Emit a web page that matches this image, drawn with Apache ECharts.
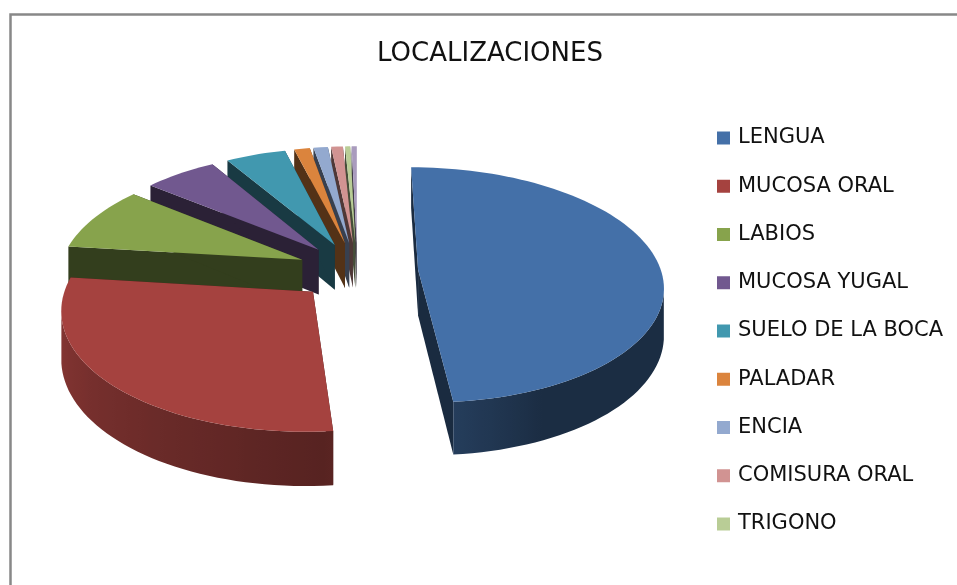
<!DOCTYPE html>
<html>
<head>
<meta charset="utf-8">
<title>LOCALIZACIONES</title>
<script src="https://cdn.jsdelivr.net/npm/echarts@6/dist/echarts.min.js"></script>
<style>
html, body { margin: 0; padding: 0; background: #fff; }
#chart { width: 957px; height: 585px; }
</style>
</head>
<body>
<div id="chart"></div>
<script>
// porcentajes
const categories = ['LENGUA', 'MUCOSA ORAL', 'LABIOS', 'MUCOSA YUGAL', 'SUELO DE LA BOCA', 'PALADAR', 'ENCIA', 'COMISURA ORAL', 'TRIGONO', 'OTROS']
const values = [48.5, 28.4, 8.9, 5.6, 4.6, 1.2, 1.1, 0.9, 0.4, 0.4]
const legendNames = categories.slice(0, 9)
const colors = ['#4470a8', '#a5423f', '#87a34c', '#71588f', '#4198af', '#db843d', '#93a9cf', '#d19392', '#b9cd96', '#a99bbd']

// proyeccion de la tarta 3D
const cx = 357.5, cy = 271, rx = 243, ry = 116, persp = 0.13, explode = 0.25, depth = 46
const total = values.reduce((a, b) => a + b, 0)

let shade = (hex, f) => {
    let n = parseInt(hex.slice(1), 16)
    let r = Math.round((n >> 16) * f), g = Math.round(((n >> 8) & 255) * f), b = Math.round((n & 255) * f)
    return `rgb(${r},${g},${b})`
}
// luz del borde exterior segun el angulo
let arcLight = (deg) => {
    if (deg < 175) return 0.4 + 0.15 * Math.max(0, deg - 155) / 20
    return 0.52 + 0.32 * (deg - 175) / 95
}
let project = (u, v, z) => {
    let s = 1 / (1 - persp * v)
    return [cx + rx * u * s, cy + ry * v * s + z * depth * s]
}

let renderSlice = (index) => (params, api) => {
    let before = values.slice(0, index).reduce((a, b) => a + b, 0)
    let start = before / total * 360
    let end = start + api.value(0) / total * 360
    let mid = (start + end) / 2 * Math.PI / 180
    let eu = explode * Math.sin(mid), ev = -explode * Math.cos(mid)
    let onDisc = (deg) => {
        let a = deg * Math.PI / 180
        return [eu + Math.sin(a), ev - Math.cos(a)]
    }
    let at = (p, z) => api.coord(project(p[0], p[1], z))
    let poly = (points, fill) => ({
        type: 'polygon',
        shape: { points: points },
        style: { fill: fill }
    })
    let base = colors[index]
    let apex = [eu, ev]
    let steps = Math.max(2, Math.ceil((end - start) / 2))
    let angles = []
    for (let i = 0; i <= steps; i++) angles.push(start + (end - start) * i / steps)

    let children = []
    // paredes radiales
    for (const deg of [start, end]) {
        let p = onDisc(deg)
        children.push(poly([at(apex, 0), at(p, 0), at(p, 1), at(apex, 1)], shade(base, 0.38)))
    }
    // borde exterior: solo la parte que mira al frente
    let front = angles.filter((deg, i) => {
        let prev = at(onDisc(angles[Math.max(i - 1, 0)]), 0)
        let next = at(onDisc(angles[Math.min(i + 1, steps)]), 0)
        return next[0] < prev[0]
    })
    if (front.length > 1) {
        let upper = front.map((deg) => at(onDisc(deg), 0))
        let lower = front.map((deg) => at(onDisc(deg), 1)).reverse()
        let xs = upper.map((p) => p[0])
        let xMin = Math.min(...xs), xMax = Math.max(...xs)
        let stops = front.map((deg, i) => ({
            offset: (xs[i] - xMin) / (xMax - xMin),
            color: shade(base, arcLight(deg))
        })).sort((a, b) => a.offset - b.offset)
        children.push(poly(upper.concat(lower), new echarts.graphic.LinearGradient(xMin, 0, xMax, 0, stops, true)))
    }
    // cara superior
    let top = [at(apex, 0)]
    for (const deg of angles) top.push(at(onDisc(deg), 0))
    children.push(poly(top, base))
    return { type: 'group', children: children }
}

// orden de pintado: de atras hacia delante
let midAngle = (i) => (values.slice(0, i).reduce((a, b) => a + b, 0) + values[i] / 2) / total * 2 * Math.PI
let order = categories.map((c, i) => i).sort((a, b) => Math.cos(midAngle(b)) - Math.cos(midAngle(a)))
let rank = {}
order.forEach((idx, pos) => { rank[idx] = pos })

let series = categories.map((name, i) => ({
    name: name,
    type: 'custom',
    coordinateSystem: 'cartesian2d',
    clip: false,
    z: 2 + rank[i],
    silent: true,
    animation: false,
    itemStyle: { color: colors[i] },
    renderItem: renderSlice(i),
    encode: { x: 0, y: 0 },
    data: [[values[i]]]
}))

let mychart = echarts.init(document.getElementById('chart'), null, { renderer: 'canvas' })
mychart.setOption({
    animation: false,
    backgroundColor: '#ffffff',
    title: {
        text: 'LOCALIZACIONES',
        left: 485,
        top: 36,
        textAlign: 'center',
        textStyle: { color: '#111111', fontSize: 26, fontWeight: 'normal', fontFamily: 'DejaVu Sans' }
    },
    legend: {
        orient: 'vertical',
        left: 712,
        top: 121,
        data: legendNames,
        icon: 'rect',
        itemWidth: 13,
        itemHeight: 13,
        itemGap: 24.25,
        selectedMode: false,
        textStyle: { color: '#111111', fontSize: 21, lineHeight: 24, fontFamily: 'DejaVu Sans', padding: [0, 0, 0, 3] }
    },
    grid: { left: 0, right: 0, top: 0, bottom: 0 },
    xAxis: { type: 'value', min: 0, max: 957, show: false },
    yAxis: { type: 'value', min: 0, max: 585, inverse: true, show: false },
    graphic: [{
        type: 'polyline',
        shape: { points: [[10.5, 585], [10.5, 14.5], [957, 14.5]] },
        style: { stroke: '#888888', lineWidth: 2.5, fill: null }
    }],
    series: series
})
window.addEventListener('resize', () => {
    mychart?.resize()
})
</script>
</body>
</html>
